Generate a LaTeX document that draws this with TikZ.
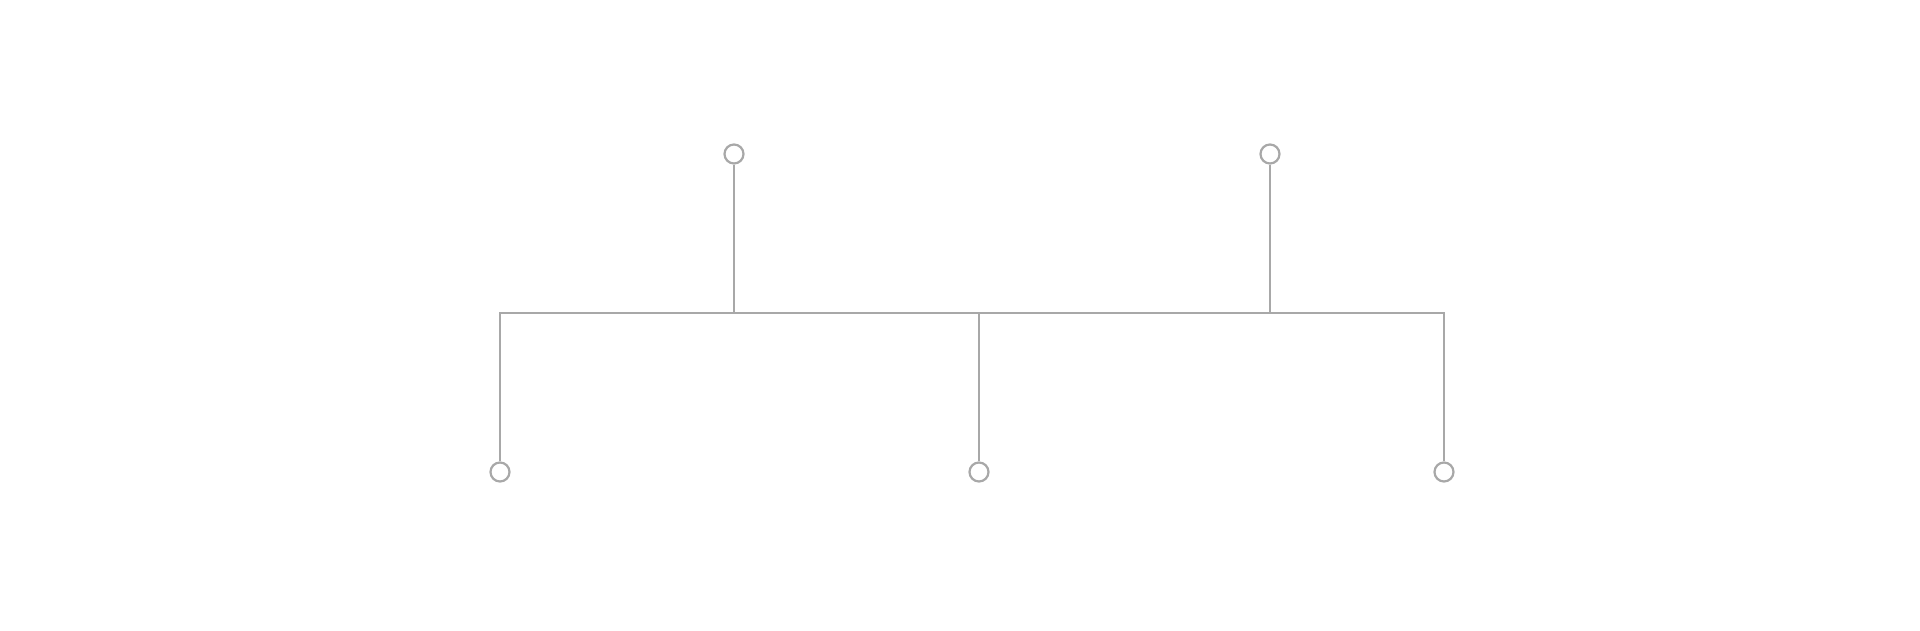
\documentclass[tikz,border=0pt]{standalone}
\usepackage{xcolor}
\usepackage{tikz}
\definecolor{bg}{HTML}{FFFFFF}
\definecolor{line}{HTML}{A8A8A8}
\tikzset{
  base/.style={draw=line, line width=1.5pt, line cap=butt, line join=miter},
  dot/.style={circle, draw=line, fill=bg, line width=2.2pt, minimum size=19pt, inner sep=0pt},
}
\begin{document}
\begin{tikzpicture}[x=1pt,y=-1pt]
  \useasboundingbox[fill=bg] (0,0) rectangle (1920,630);
  \coordinate (L) at (500,313); % left corner
  \coordinate (R) at (1444,313); % right corner
  \coordinate (M) at (979,313); % middle
  \coordinate (T1) at (734,313);
  \coordinate (T2) at (1270,313);

  \node[dot] (a) at (734,154) {};
  \node[dot] (b) at (1270,154) {};
  \node[dot] (c) at (500,472) {};
  \node[dot] (d) at (979,472) {};
  \node[dot] (e) at (1444,472) {};

  \draw[base] (c) -- (L) -- (R) -- (e);
  \draw[base] (a) -- (T1);
  \draw[base] (b) -- (T2);
  \draw[base] (M) -- (d);
\end{tikzpicture}
\end{document}
